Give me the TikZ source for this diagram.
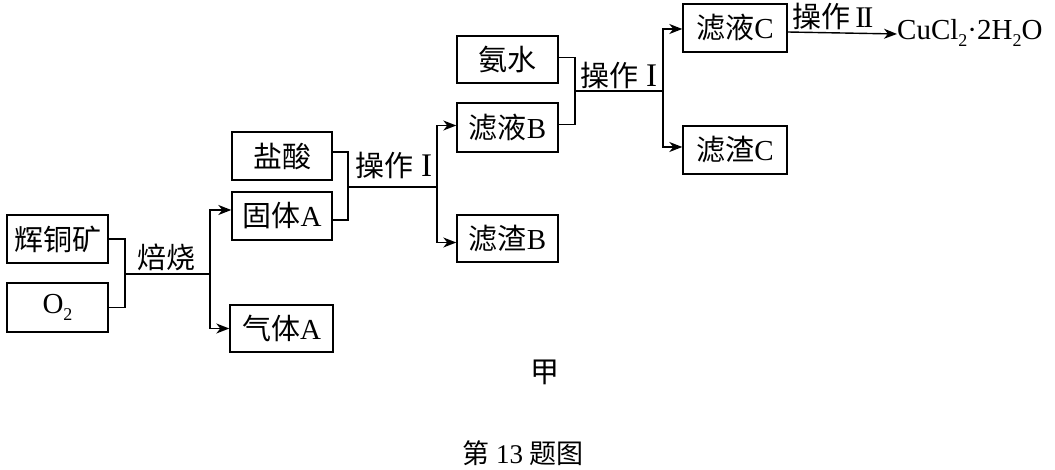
\documentclass[tikz,border=0pt]{standalone}
\usepackage{fontspec}
\setmainfont{Liberation Serif}
\newfontfamily\cjk{Noto Sans CJK SC}
\usetikzlibrary{arrows.meta}
\newcommand{\zh}[1]{{\cjk #1}}
\newcommand{\sbs}[1]{\raisebox{-0.25em}{\fontsize{18}{18}\selectfont #1}}
\newcommand{\romI}{{\fontsize{33}{33}\selectfont I}}
\newcommand{\romII}{{\fontsize{30}{30}\selectfont I\kern-0.07em I}}
\begin{document}
\begin{tikzpicture}[x=1pt,y=-1pt,
  box/.style={draw,line width=1.4pt,inner sep=0pt,minimum width=101pt,minimum height=48pt,font=\fontsize{29}{32}\selectfont},
  lbl/.style={inner sep=0pt,font=\fontsize{29}{32}\selectfont},
  ln/.style={line width=1.4pt},
  arr/.style={line width=1.4pt,-{Stealth[length=13pt,width=10pt,inset=4pt]}}]
\useasboundingbox (0,0) rectangle (1055,470);
% boxes
\node[box] (hui) at (57.5,239) {\zh{辉铜矿}};
\node[box,minimum height=49pt] (o2) at (57.5,307.5) {O\sbs{2}};
\node[box,minimum width=100pt] (yan) at (282,156) {\zh{盐酸}};
\node[box,minimum width=100pt] (guA) at (282,216) {\zh{固体}A};
\node[box,minimum width=103pt,minimum height=47pt] (qiA) at (281.5,328.5) {\zh{气体}A};
\node[box,minimum height=47pt] (an) at (507.5,59.5) {\zh{氨水}};
\node[box,minimum height=49pt] (lyB) at (507.5,127.5) {\zh{滤液}B};
\node[box,minimum height=47pt] (zB) at (507.5,238.5) {\zh{滤渣}B};
\node[box,minimum width=104pt] (lyC) at (735,28) {\zh{滤液}C};
\node[box,minimum width=104pt] (zC) at (735,150) {\zh{滤渣}C};
\node[lbl,anchor=west] (cu) at (897,33) {CuCl\sbs{2}·2H\sbs{2}O};
% labels
\node[lbl] (l1) at (166,257) {\zh{焙烧}};
\node[lbl] (l2) at (394,165) {\zh{操作} \romI};
\node[lbl] (l3) at (619,75) {\zh{操作} \romI};
\node[lbl] (l4) at (833,16) {\zh{操作}\,\romII};
\node[lbl] (jia) at (545,372) {\zh{甲}};
\node[lbl,font=\fontsize{27}{30}\selectfont] (cap) at (523,453) {\zh{第} 13 \zh{题图}};
% stage 1
\coordinate (m1) at (125,274);
\coordinate (b1) at (210,274);
\draw[ln] (hui.east) -| (m1) |- (o2.east);
\draw[ln] (m1) -- (b1);
\draw[arr] (b1) |- ([yshift=6pt]guA.west);
\draw[arr] (b1) |- (qiA.west);
% stage 2
\coordinate (m2) at (348,187);
\coordinate (b2) at (437,187);
\draw[ln] ([yshift=4pt]yan.east) -| (m2) |- ([yshift=-4pt]guA.east);
\draw[ln] (m2) -- (b2);
\draw[arr] (b2) |- ([yshift=2pt]lyB.west);
\draw[arr] (b2) |- ([yshift=-4pt]zB.west);
% stage 3
\coordinate (m3) at (575,91);
\coordinate (b3) at (663,91);
\draw[ln] ([yshift=2pt]an.east) -| (m3) |- ([yshift=3pt]lyB.east);
\draw[ln] (m3) -- (b3);
\draw[arr] (b3) |- ([yshift=-1pt]lyC.west);
\draw[arr] (b3) |- ([yshift=3pt]zC.west);
% stage 4
\draw[arr] ([yshift=-4pt]lyC.east) -- ([yshift=-1pt]cu.west);
\end{tikzpicture}
\end{document}
